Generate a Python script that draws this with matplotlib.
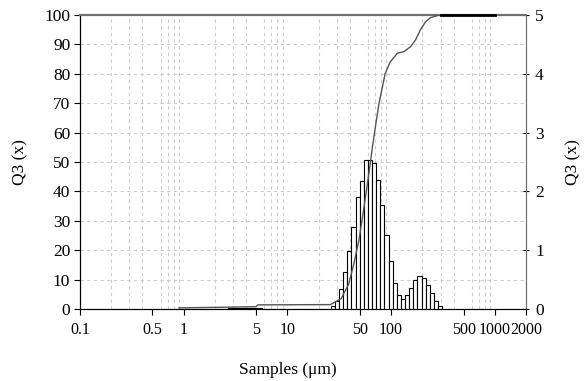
import numpy as np
import matplotlib
matplotlib.use('Agg')
import matplotlib.pyplot as plt
from matplotlib.ticker import FixedLocator, NullFormatter

plt.rcParams['font.family'] = ['Liberation Serif', 'DejaVu Serif']
plt.rcParams['font.size'] = 13

# cumulative distribution Q3 (%), particle size in um
cum_size = [0.9, 2.5, 5.0, 5.2, 26.0, 33.0, 39.0, 43.5, 49.0, 55.0, 61.0, 66.0,
            72.0, 76.5, 82.6, 87.5, 98.0, 115.0, 132.0, 154.0, 172.0, 192.0,
            215.0, 240.0, 280.0, 300.0, 1000.0]
cum_q3 = [0.4, 0.6, 0.8, 1.4, 1.5, 3.5, 8.5, 15.0, 23.5, 35.0, 46.0, 55.0,
          64.0, 70.0, 75.6, 80.0, 84.0, 87.0, 87.5, 89.2, 91.5, 95.0,
          97.7, 99.1, 99.8, 100.0, 100.0]

# density bars (right axis): left bin edges and heights
fine_edges = [0.90, 0.99, 1.08, 1.18, 1.30, 1.42, 1.56, 1.71, 1.87, 2.05,
              2.25, 2.47, 2.70, 2.96, 3.25, 3.56, 3.90, 4.28, 4.69, 5.14]
fine_q = [0.006] * 12 + [0.02] * 8
main_edges = [26.2, 28.7, 31.5, 34.5, 37.8, 41.4, 45.4, 49.8, 54.5, 59.8,
              65.5, 71.8, 78.7, 86.2, 94.5, 103.6, 113.5, 124.4, 136.3, 149.4,
              163.8, 179.5, 196.7, 215.6, 236.3, 259.0, 283.8]
main_q = [0.055, 0.135, 0.335, 0.635, 0.985, 1.40, 1.90, 2.17, 2.54, 2.54,
          2.49, 2.20, 1.77, 1.26, 0.82, 0.45, 0.24, 0.165, 0.24, 0.35,
          0.50, 0.56, 0.535, 0.41, 0.28, 0.135, 0.055]

x_ticks = [0.1, 0.5, 1, 5, 10, 50, 100, 500, 1000, 2000]
x_labels = ['0.1', '0.5', '1', '5', '10', '50', '100', '500', '1000', '2000']

bin_ratio = 1.096

fig = plt.figure(figsize=(5.85, 3.81), dpi=100)
ax = fig.add_axes([80 / 585, 1 - 309 / 381, 446 / 585, 294 / 381])
ax2 = ax.twinx()

ax.set_xscale('log')
ax.set_xlim(0.1, 2000)
ax.set_ylim(0, 100)

# grid
minor_pos = [m * 10.0 ** e for e in range(-1, 3) for m in range(2, 10)] + [1, 10, 100, 1000]
ax.xaxis.set_minor_locator(FixedLocator(minor_pos))
ax.xaxis.set_minor_formatter(NullFormatter())
ax.tick_params(axis='x', which='minor', length=0)
ax.set_xticks(x_ticks)
ax.set_xticklabels(x_labels)
ax.set_yticks(range(0, 101, 10))
ax.grid(True, which='minor', axis='x', color='#cccccc', ls=(0, (3, 3)), lw=0.8)
ax.grid(True, which='major', axis='y', color='#cccccc', ls=(0, (3, 3)), lw=0.8)
ax.set_axisbelow(True)

# bars
for edges, q in [(fine_edges, fine_q), (main_edges, main_q)]:
    e = np.array(edges)
    ax2.bar(e, q, width=e * (bin_ratio - 1), align='edge', color='white',
            edgecolor='black', lw=0.8, zorder=2)

# cumulative curve on top of bars
cs = np.array(cum_size)
cq = np.array(cum_q3)
ax2.plot(cs, cq, color='#555555', lw=1.0, transform=ax.transData, zorder=3)
top = cq >= 100
ax2.plot(cs[top], cq[top], color='black', lw=2.0, transform=ax.transData,
         zorder=3, clip_on=False)

ax2.set_xlim(0.1, 2000)
ax2.set_ylim(0, 5)
ax2.set_yticks(range(0, 6))

for a in (ax, ax2):
    a.spines['top'].set_color('#707070')
    a.spines['top'].set_linewidth(1.5)
    a.spines['right'].set_color('#707070')
    a.spines['left'].set_color('black')
    a.spines['bottom'].set_color('black')

ax.tick_params(axis='y', which='major', direction='out', length=4, width=0.8,
               labelsize=12.5, pad=3)
ax.tick_params(axis='x', which='major', direction='out', length=4, width=0.8,
               labelsize=11.5, pad=5)
ax2.tick_params(axis='y', direction='inout', length=5, width=0.8, labelsize=12.5, pad=4)

ax.set_ylabel('Q3 (x)', fontsize=12.5, va='center')
ax.yaxis.set_label_coords(-60 / 446, 0.5)
ax2.set_ylabel('Q3 (x)', fontsize=12.5, va='center')
ax2.yaxis.set_label_coords(493 / 446, 0.5)
ax.set_xlabel('Samples (μm)', fontsize=12.5, va='center')
ax.xaxis.set_label_coords(208 / 446, -61 / 294)

fig.savefig('out.png', dpi=100)
